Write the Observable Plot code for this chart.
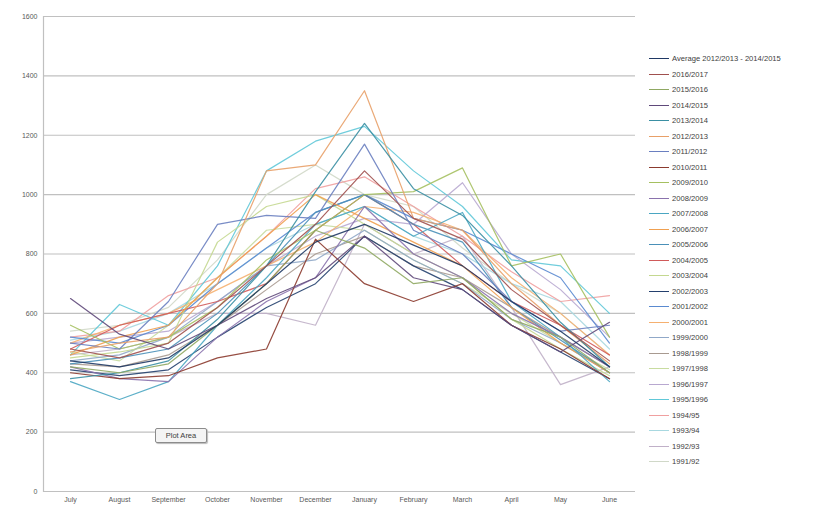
<!DOCTYPE html>
<html>
<head>
<meta charset="utf-8">
<script src="https://cdn.jsdelivr.net/npm/d3@7"></script>
<script src="https://cdn.jsdelivr.net/npm/@observablehq/plot@0.6"></script>
<style>
  body { margin: 0; background: #fff; font-family: "Liberation Sans", Arial, sans-serif; }
  #wrap { position: relative; width: 817px; height: 508px; overflow: hidden; }
  #chart { position: absolute; left: 0; top: 0; }
  #chart svg text { fill: #595959 !important; }
  #legend { position: absolute; left: 649px; top: 51px; font-size: 7.6px; color: #404040; }
  .item { height: 15.5px; display: flex; align-items: center; white-space: nowrap; }
  .sw { width: 20px; height: 0; border-top: 1.4px solid; margin-right: 3px; }
  #tip { position: absolute; left: 155px; top: 428px; width: 50px; height: 13px; border: 1px solid #8c8c8c;
         border-radius: 2px; background: #f4f4f4; font-size: 7.5px; color: #404040; text-align: center;
         line-height: 13px; box-shadow: 1px 1px 1px #bbb; }
</style>
</head>
<body>
<div id="wrap"><div id="chart"></div><div id="legend"></div><div id="tip">Plot Area</div></div>
<script>
const months = ["July","August","September","October","November","December","January","February","March","April","May","June"];
const yTicks = [0,200,400,600,800,1000,1200,1400,1600];
const seriesNames = ["Average 2012/2013 - 2014/2015","2016/2017","2015/2016","2014/2015","2013/2014","2012/2013","2011/2012","2010/2011","2009/2010","2008/2009","2007/2008","2006/2007","2005/2006","2004/2005","2003/2004","2002/2003","2001/2002","2000/2001","1999/2000","1998/1999","1997/1998","1996/1997","1995/1996","1994/95","1993/94","1992/93","1991/92"];
const colors = ["#1f3864","#a0504e","#8fa862","#5f497a","#3a8fa3","#e8a068","#6a7fc0","#8b3a2e","#a5c060","#8a72ad","#4aa6c2","#f0a050","#4a90b8","#d05a5a","#c4d890","#24406e","#5a8ad0","#f5b070","#90a8c8","#a89a90","#c8dca0","#b8a8d0","#60c8d8","#f0a0a0","#a8d8e0","#c0b0c8","#d0d8c8"];

const v_avg  = [440,420,450,560,700,840,900,830,760,640,540,420];
const v_1617 = [480,450,500,620,760,900,1080,920,850,680,560,440];
const v_1516 = [420,400,430,560,700,880,820,700,720,580,520,400];
const v_1415 = [650,530,480,560,650,720,860,720,680,560,470,570];
const v_1314 = [380,400,440,580,760,1010,1240,1020,930,760,570,420];
const v_1213 = [470,500,520,700,1080,1100,1350,920,880,700,560,430];
const v_1112 = [500,480,640,900,930,920,1170,880,800,640,540,560];
const v_1011 = [400,380,390,450,480,850,700,640,700,560,480,380];
const v_0910 = [560,480,520,620,780,880,1000,1010,1090,760,800,520];
const v_0809 = [420,380,370,520,640,720,960,800,720,600,520,420];
const v_0708 = [370,310,370,560,720,900,960,860,940,640,520,370];
const v_0607 = [460,520,560,720,860,1000,920,840,760,620,500,400];
const v_0506 = [430,450,480,600,760,940,1000,900,840,620,510,400];
const v_0405 = [480,560,600,640,700,880,1000,900,760,640,560,460];
const v_0304 = [450,470,500,840,960,1000,900,800,720,580,480,390];
const v_0203 = [410,390,410,520,620,700,860,760,680,560,470,380];
const v_0102 = [520,500,560,700,820,940,1000,920,880,800,720,500];
const v_0001 = [500,560,600,680,760,840,960,940,880,720,600,460];
const v_9900 = [440,460,520,640,760,780,880,780,700,580,500,400];
const v_9899 = [430,420,460,560,680,800,860,760,720,620,520,420];
const v_9798 = [470,440,560,720,880,900,880,780,700,600,500,410];
const v_9697 = [500,520,540,640,760,860,920,900,1040,800,680,520];
const v_9596 = [460,630,560,760,1080,1180,1230,1080,960,780,760,600];
const v_9495 = [520,540,660,720,860,1020,1060,960,860,740,640,660];
const v_9394 = [510,540,600,700,820,900,960,860,800,700,640,480];
const v_9293 = [460,480,520,600,600,560,900,800,860,620,360,420];
const v_9192 = [540,560,620,780,1000,1100,1000,960,820,700,600,460];

const values = [v_avg,v_1617,v_1516,v_1415,v_1314,v_1213,v_1112,v_1011,v_0910,v_0809,v_0708,v_0607,v_0506,v_0405,v_0304,v_0203,v_0102,v_0001,v_9900,v_9899,v_9798,v_9697,v_9596,v_9495,v_9394,v_9293,v_9192];

const rows = [];
values.forEach((vals, i) => vals.forEach((v, j) => rows.push({series: seriesNames[i], month: months[j], value: v})));
const drawOrder = seriesNames.slice().reverse();

const chart = Plot.plot({
  width: 640,
  height: 508,
  marginLeft: 43,
  marginRight: 5,
  marginTop: 16,
  marginBottom: 17,
  style: {fontFamily: "Liberation Sans, Arial, sans-serif", color: "#595959", background: "#fff"},
  x: {type: "point", domain: months, padding: 0.5, label: null},
  y: {domain: [0, 1600], label: null},
  color: {domain: seriesNames, range: colors},
  marks: [
    Plot.gridY(yTicks, {stroke: "#c0c0c0", strokeOpacity: 1, strokeWidth: 1.2}),
    Plot.frame({anchor: "left", stroke: "#c0c0c0", strokeWidth: 1.2}),
    Plot.axisY(yTicks, {tickSize: 0, tickPadding: 6, fontSize: 7, label: null, fill: "#595959", tickFormat: d => String(d)}),
    Plot.axisX({tickSize: 0, tickPadding: 6, fontSize: 7, label: null, fill: "#595959"}),
    ...drawOrder.map(name => Plot.line(rows.filter(d => d.series === name), {
      x: "month", y: "value", stroke: "series", strokeWidth: 1.2, strokeOpacity: 0.9
    }))
  ]
});
document.getElementById("chart").appendChild(chart);

const legend = document.getElementById("legend");
seriesNames.forEach((name, i) => {
  const item = document.createElement("div");
  item.className = "item";
  const sw = document.createElement("span");
  sw.className = "sw";
  sw.style.borderTopColor = colors[i];
  const t = document.createElement("span");
  t.textContent = name;
  item.appendChild(sw);
  item.appendChild(t);
  legend.appendChild(item);
});
</script>
</body>
</html>
